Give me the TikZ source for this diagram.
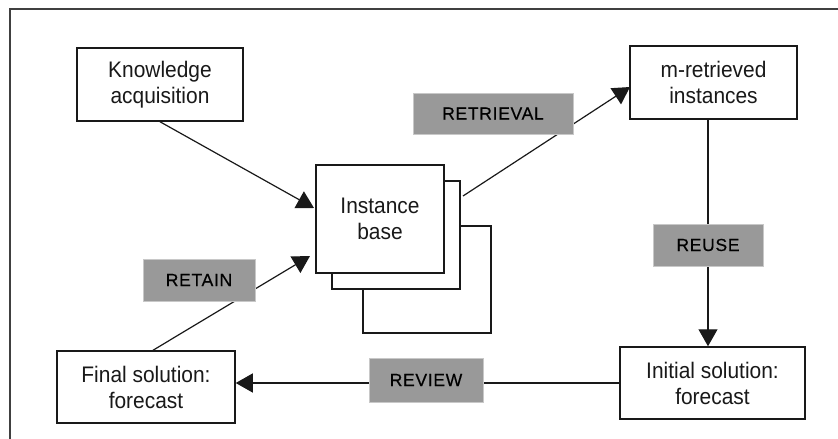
\documentclass[tikz,border=0pt]{standalone}
\usepackage{fontspec}
\setmainfont[FakeStretch=0.93]{Liberation Sans}
\newfontfamily\labfont[LetterSpace=4,FakeBold=0.4]{Liberation Sans}
\usetikzlibrary{arrows.meta}
\definecolor{labgray}{RGB}{153,153,153}
\definecolor{labedge}{RGB}{200,200,200}
\definecolor{ink}{RGB}{25,25,25}
\tikzset{
  box/.style={draw=ink, line width=1.5pt, fill=white, align=center, inner sep=0pt,
    font=\fontsize{22.5}{26}\selectfont, text=ink},
  lab/.style={draw=labedge, line width=1pt, fill=labgray, inner sep=0pt,
    font=\labfont\fontsize{17.5}{20}\selectfont, text=black},
  arr/.style={draw=ink, line width=1.2pt, -{Triangle[length=17pt,width=19pt]}},
  conn/.style={draw=ink, line width=1.2pt}
}
\begin{document}
\begin{tikzpicture}[x=1pt,y=-1pt]
\useasboundingbox (0,0) rectangle (838,439);
% outer frame
\draw[line width=1.5pt, black!75] (10,439) -- (10,9) -- (838,9);
% boxes
\node[box, minimum width=166pt, minimum height=73pt] (kn) at (160,84.5) {Knowledge\\acquisition};
\node[box, minimum width=167pt, minimum height=73pt] (mret) at (713.5,82.5) {m-retrieved\\instances};
\node[box, minimum width=178pt, minimum height=72pt] (fin) at (146,387) {Final solution:\\forecast};
\node[box, minimum width=185pt, minimum height=72pt] (init) at (712.5,383) {Initial solution:\\forecast};
% instance base stack
\node[box, minimum width=128pt, minimum height=107pt] (ib3) at (427,279.5) {};
\node[box, minimum width=128pt, minimum height=108pt] (ib2) at (396,235) {};
\node[box, minimum width=128pt, minimum height=108pt] (ib) at (380,219) {Instance\\base};
% connectors
\coordinate (kin) at (314,208);
\coordinate (rin) at (310,256);
\coordinate (rout) at (463,196);
\coordinate (mrin) at (630,87);
\coordinate (rux) at (708,0);
\draw[arr] (kn.south) -- (kin);
\draw[arr] ([xshift=7pt]fin.north) -- (rin);
\draw[arr] (rout) -- (mrin);
\draw[arr] (rux |- mret.south) -- (rux |- init.north);
\draw[arr] (init.west) -- (init.west -| fin.east);
% labels
\node[lab, minimum width=160pt, minimum height=41pt] (retrieval) at (493,113.5) {RETRIEVAL};
\node[lab, minimum width=110pt, minimum height=42pt] (reuse) at (708,245) {REUSE};
\node[lab, minimum width=114pt, minimum height=44pt] (review) at (426,380) {REVIEW};
\node[lab, minimum width=112pt, minimum height=42pt] (retain) at (199,280) {RETAIN};
\end{tikzpicture}
\end{document}
